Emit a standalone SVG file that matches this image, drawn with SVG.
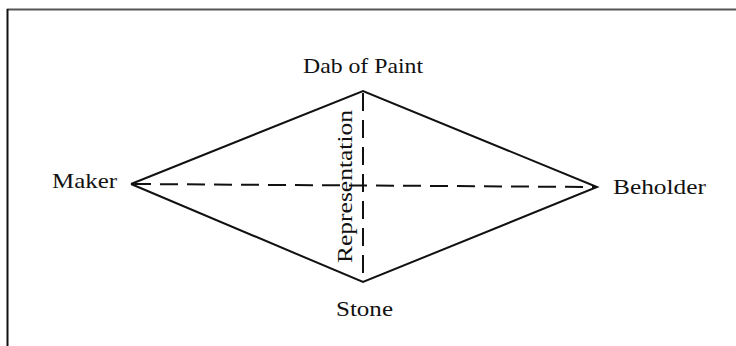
<svg xmlns="http://www.w3.org/2000/svg" width="736" height="346" viewBox="0 0 736 346">
<style>
.lbl{font-family:"Liberation Serif","Times New Roman",serif;font-size:21px;fill:#111}
.edge{stroke:#111;stroke-width:2;fill:none}
.dash{stroke:#111;stroke-width:2;fill:none;stroke-dasharray:18 9}
</style>
<rect width="736" height="346" fill="#fff"/>
<g id="frame">
<line x1="7" y1="9.5" x2="736" y2="9.5" stroke="#555" stroke-width="2"/>
<line x1="7.5" y1="9" x2="7.5" y2="346" stroke="#111" stroke-width="2"/>
</g>
<g id="connectors">
<polyline class="edge" points="131,184 363,91 597,187 363,282 131,184"/>
<line class="dash" x1="133" y1="184" x2="595" y2="187"/>
<line class="dash" x1="363" y1="93" x2="363" y2="281"/>
</g>
<g id="dab"><text class="lbl" x="363" y="73" text-anchor="middle" textLength="120" lengthAdjust="spacingAndGlyphs">Dab of Paint</text></g>
<g id="maker"><text class="lbl" x="52" y="188" textLength="65" lengthAdjust="spacingAndGlyphs">Maker</text></g>
<g id="beholder"><text class="lbl" x="613" y="194" textLength="93" lengthAdjust="spacingAndGlyphs">Beholder</text></g>
<g id="stone"><text class="lbl" x="336" y="316" textLength="57" lengthAdjust="spacingAndGlyphs">Stone</text></g>
<g id="representation"><text class="lbl" transform="translate(352,263) rotate(-90)" x="0" y="0" textLength="153" lengthAdjust="spacingAndGlyphs">Representation</text></g>
</svg>
